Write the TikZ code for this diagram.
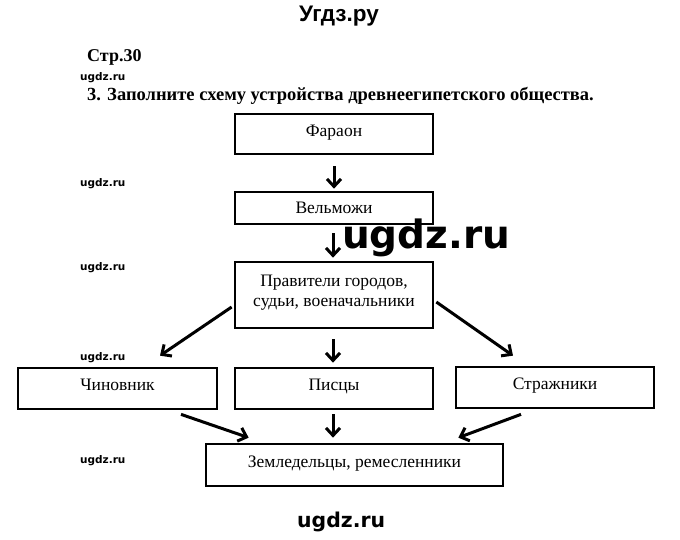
\documentclass[tikz,border=0pt]{standalone}
\usepackage{fontspec}
\setmainfont{Liberation Serif}
\newfontfamily\hdfont{Liberation Sans}
\newfontfamily\wmfont{DejaVu Sans}
\usetikzlibrary{arrows.meta}
\begin{document}
\begin{tikzpicture}[x=1pt,y=-1pt,
  box/.style={draw,line width=2.7pt,inner sep=0pt,align=center,
    text height=12pt,text depth=7.5pt,
    font=\fontsize{17.5}{20}\selectfont},
  arr/.style={line width=3pt,-{Straight Barb[length=7.5pt,width=14pt]}},
  wm/.style={anchor=base west,inner sep=0pt,font=\wmfont\bfseries\fontsize{10.5}{12}\selectfont}]
\useasboundingbox[fill=white] (0,0) rectangle (680,539);
% headings
\node[anchor=base,inner sep=0pt,font=\hdfont\bfseries\fontsize{22.5}{26}\selectfont] (site) at (339,21) {Угдз.ру};
\node[anchor=base west,inner sep=0pt,font=\bfseries\fontsize{18}{20}\selectfont] (page) at (87,61) {Стр.30};
\node[anchor=base west,inner sep=0pt,font=\bfseries\fontsize{18.5}{20}\selectfont] (task) at (87,100) {3. Заполните схему устройства древнеегипетского общества.};
% watermarks
\node[wm] (w1) at (80,80) {ugdz.ru};
\node[wm] (w2) at (80,186) {ugdz.ru};
\node[wm] (w3) at (80,270) {ugdz.ru};
\node[wm] (w4) at (80,360) {ugdz.ru};
\node[wm] (w5) at (80,463) {ugdz.ru};
% boxes
\node[box,minimum width=198pt,minimum height=40pt] (far) at (334,134) {Фараон};
\node[box,minimum width=198pt,minimum height=32pt,text depth=1.5pt] (vel) at (334,208) {Вельможи};
\node[box,minimum width=198pt,minimum height=66pt,text height=,text depth=9pt] (prav) at (334,295) {Правители городов,\\судьи, военачальники};
\node[box,minimum width=199pt,minimum height=41pt] (chin) at (117.5,388.5) {Чиновник};
\node[box,minimum width=198pt,minimum height=41pt] (pis) at (334,388.5) {Писцы};
\node[box,minimum width=198pt,minimum height=41pt] (strazh) at (555,387.5) {Стражники};
\node[box,minimum width=297pt,minimum height=42pt] (zem) at (354.5,465) {Земледельцы, ремесленники};
% arrows
\draw[arr] ([yshift=-11pt]far.south) -- ([yshift=2pt]vel.north);
\draw[arr] ([xshift=-1pt,yshift=-8pt]vel.south) -- ([xshift=-1pt,yshift=3pt]prav.north);
\draw[arr] ([xshift=-1pt,yshift=-10pt]prav.south) -- ([xshift=-1pt,yshift=4pt]pis.north);
\draw[arr] ([xshift=-1pt,yshift=-4pt]pis.south) -- ([xshift=-21.5pt,yshift=5pt]zem.north);
\draw[arr] ([xshift=-2pt,yshift=-12pt]prav.west) -- ([xshift=42.5pt,yshift=11pt]chin.north);
\draw[arr] ([xshift=2pt,yshift=-7pt]prav.east) -- ([xshift=-42pt,yshift=10pt]strazh.north);
\draw[arr] ([xshift=63.5pt,yshift=-4pt]chin.south) -- ([xshift=44pt,yshift=5pt]zem.north west);
\draw[arr] ([xshift=-34pt,yshift=-5pt]strazh.south) -- ([xshift=-46pt,yshift=5pt]zem.north east);
% big watermarks (drawn on top)
\node[anchor=base west,inner sep=0pt,font=\wmfont\bfseries\fontsize{39}{44}\selectfont] (wbig) at (342,248) {ugdz.ru};
\node[anchor=base west,inner sep=0pt,font=\wmfont\bfseries\fontsize{20.4}{24}\selectfont] (wbot) at (297,527) {ugdz.ru};
\end{tikzpicture}
\end{document}
